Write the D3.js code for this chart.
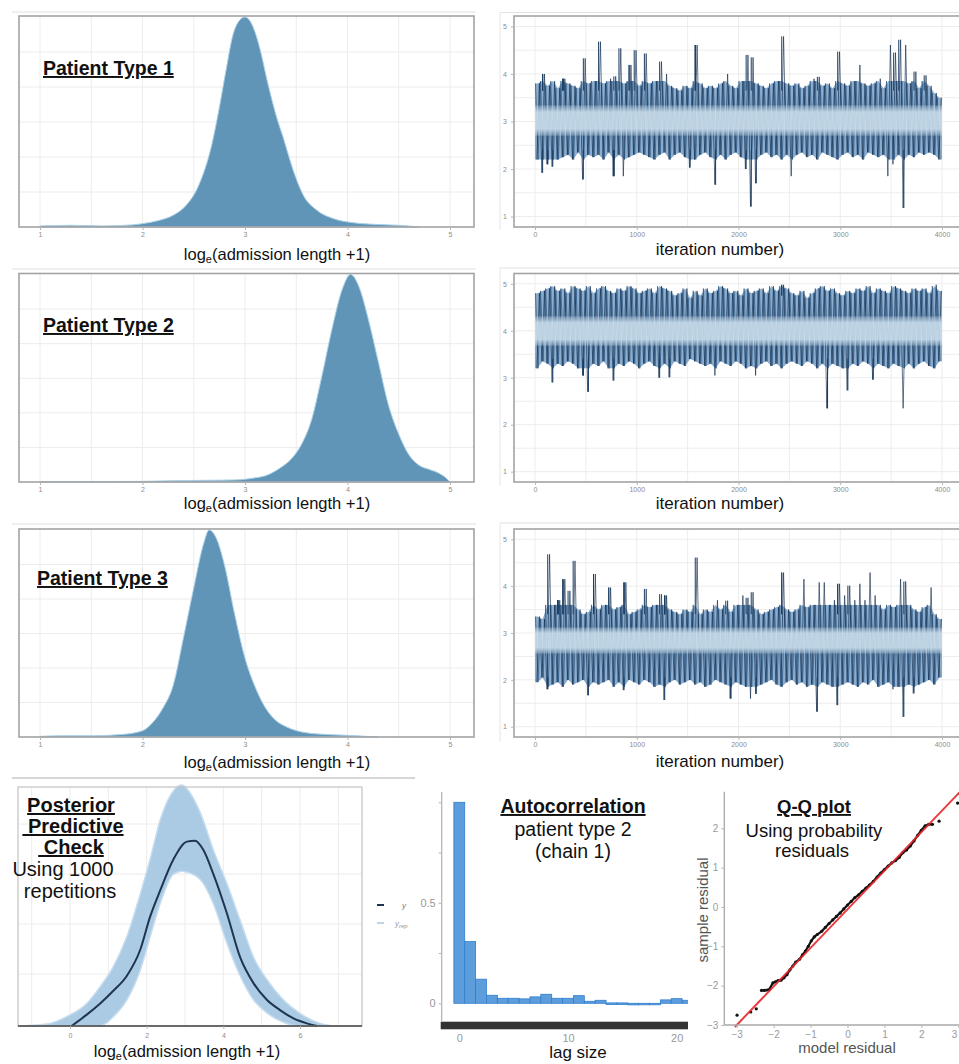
<!DOCTYPE html>
<html>
<head>
<meta charset="utf-8">
<script src="https://cdn.jsdelivr.net/npm/d3@7"></script>
<style>
  body { margin: 0; background: #fff; }
  svg { display: block; font-family: 'Liberation Sans', Arial, sans-serif; }
</style>
</head>
<body>
<script>
// ---------- data ----------
var patientLabels = ["Patient Type 1", "Patient Type 2", "Patient Type 3"];
var densityTicks = [1, 2, 3, 4, 5];

// posterior densities of log(admission length + 1), peak scaled to 1
var density1X = [1.0, 1.3, 1.6, 1.9, 2.0, 2.15, 2.3, 2.42, 2.55, 2.68, 2.75, 2.82, 2.88, 2.94, 3.0, 3.05, 3.11, 3.16, 3.21, 3.26, 3.31, 3.37, 3.47, 3.57, 3.7, 3.86, 4.06, 4.3, 4.5, 4.7];
var density1Y = [0.005, 0.008, 0.005, 0.01, 0.016, 0.03, 0.056, 0.1, 0.2, 0.4, 0.57, 0.76, 0.91, 0.98, 1.0, 0.98, 0.91, 0.82, 0.71, 0.61, 0.52, 0.43, 0.27, 0.15, 0.08, 0.04, 0.02, 0.012, 0.008, 0.0];
var density2X = [1.0, 1.5, 2.0, 2.3, 2.6, 2.9, 3.0, 3.1, 3.2, 3.35, 3.45, 3.55, 3.65, 3.75, 3.85, 3.95, 4.03, 4.12, 4.2, 4.3, 4.4, 4.5, 4.6, 4.7, 4.8, 4.9, 4.96, 5.0];
var density2Y = [0.002, 0.002, 0.003, 0.006, 0.008, 0.01, 0.013, 0.02, 0.03, 0.07, 0.11, 0.18, 0.3, 0.51, 0.74, 0.93, 1.0, 0.93, 0.79, 0.58, 0.37, 0.23, 0.13, 0.08, 0.06, 0.04, 0.02, 0.0];
var density3X = [1.0, 1.2, 1.5, 1.8, 2.0, 2.1, 2.2, 2.3, 2.4, 2.5, 2.6, 2.65, 2.72, 2.8, 2.9, 3.0, 3.1, 3.2, 3.3, 3.4, 3.6, 3.8, 4.0, 4.3];
var density3Y = [0.003, 0.006, 0.006, 0.012, 0.03, 0.07, 0.14, 0.25, 0.48, 0.72, 0.94, 1.0, 0.96, 0.83, 0.59, 0.38, 0.24, 0.14, 0.08, 0.05, 0.02, 0.012, 0.008, 0.0];

// trace plots: per 50-iteration block, highest and lowest draw
var traceTicksX = [0, 1000, 2000, 3000, 4000];
var traceTicksY = [1, 2, 3, 4, 5];
var traceBlock = 50;
var traceHi1 = [3.8, 4.0, 3.75, 3.85, 3.7, 3.9, 3.8, 3.75, 3.7, 4.33, 3.8, 3.85, 4.68, 3.8, 3.9, 3.95, 4.54, 3.8, 4.19, 4.5,
  3.75, 4.43, 3.8, 3.85, 4.26, 4.0, 3.75, 3.7, 3.65, 3.75, 3.7, 4.61, 3.8, 3.7, 3.75, 3.7, 3.8, 4.0, 3.75, 3.7,
  3.85, 4.4, 4.35, 3.8, 3.75, 3.7, 3.8, 3.85, 4.79, 3.8, 3.75, 3.8, 3.7, 3.75, 3.9, 3.94, 3.75, 3.8, 3.7, 4.47,
  3.8, 3.75, 3.85, 4.19, 3.8, 3.75, 3.8, 3.9, 3.7, 4.61, 4.45, 4.72, 4.61, 3.8, 4.05, 3.7, 3.97, 3.75, 3.6, 3.5];
var traceLo1 = [2.2, 1.92, 2.1, 2.05, 2.2, 2.25, 2.3, 2.2, 2.35, 1.78, 2.3, 2.25, 2.3, 2.2, 2.35, 1.85, 2.3, 1.85, 2.25, 2.3,
  2.35, 2.3, 2.25, 2.2, 2.3, 2.35, 2.2, 2.3, 2.35, 2.25, 2.03, 2.2, 2.3, 2.35, 2.25, 1.67, 2.3, 2.2, 2.3, 2.35,
  2.25, 2.0, 1.21, 1.7, 2.3, 2.35, 2.25, 2.3, 2.2, 2.3, 1.85, 2.3, 2.35, 2.25, 2.3, 2.2, 2.35, 2.3, 2.25, 2.2,
  2.3, 2.35, 2.25, 2.3, 2.2, 2.35, 2.3, 2.25, 2.3, 1.85, 2.1, 2.3, 1.18, 2.3, 2.25, 2.35, 2.3, 2.35, 2.3, 2.2];
var traceHi2 = [4.8, 4.85, 4.9, 4.95, 4.85, 4.9, 4.8, 4.95, 4.9, 4.85, 4.95, 4.8, 4.9, 4.95, 4.85, 4.8, 4.9, 4.85, 4.95, 4.9,
  4.8, 4.85, 4.9, 4.8, 4.95, 4.9, 4.85, 4.75, 4.8, 4.9, 4.7, 4.85, 4.75, 4.9, 4.8, 4.85, 4.95, 4.9, 4.8, 4.85,
  4.75, 4.9, 4.8, 4.85, 4.9, 4.8, 4.95, 4.85, 4.98, 4.9, 4.8, 4.75, 4.85, 4.7, 4.8, 4.9, 4.95, 4.85, 4.9, 4.8,
  4.75, 4.85, 4.8, 4.9, 4.85, 4.95, 4.8, 4.9, 4.85, 4.8, 4.95, 4.9, 4.85, 4.8, 4.9, 4.85, 4.9, 4.8, 4.98, 4.85];
var traceLo2 = [3.2, 3.35, 3.3, 2.9, 3.3, 3.25, 3.35, 3.3, 3.2, 3.05, 2.7, 3.3, 3.25, 3.35, 3.2, 2.94, 3.3, 3.25, 3.35, 3.3,
  3.2, 3.3, 3.35, 3.25, 3.0, 3.3, 3.01, 3.35, 3.3, 3.25, 3.4, 3.35, 3.3, 3.25, 3.3, 3.05, 3.35, 3.3, 3.25, 3.35,
  3.3, 3.2, 3.25, 3.05, 3.3, 3.35, 3.25, 3.3, 3.2, 3.3, 3.35, 3.3, 3.25, 3.35, 3.3, 3.2, 3.3, 2.35, 3.3, 3.25,
  3.2, 2.73, 3.3, 3.25, 3.35, 3.3, 2.96, 3.3, 3.25, 3.2, 3.3, 3.25, 2.35, 3.3, 3.2, 3.3, 3.35, 3.25, 3.2, 3.35];
var traceHi3 = [3.35, 3.3, 4.68, 3.6, 3.7, 4.15, 3.9, 4.54, 3.5, 3.4, 3.45, 4.26, 3.5, 3.6, 3.97, 3.5, 3.55, 4.08, 3.4, 3.45,
  3.5, 3.94, 3.55, 3.6, 3.83, 3.8, 3.5, 3.45, 3.4, 3.5, 3.45, 4.61, 3.4, 3.5, 3.45, 3.7, 3.5, 3.69, 3.45, 3.6,
  3.8, 3.75, 3.87, 3.5, 3.4, 3.45, 3.5, 3.55, 4.29, 3.5, 3.45, 3.5, 4.15, 3.55, 3.6, 4.08, 4.08, 3.6, 3.7, 4.05,
  3.8, 4.01, 3.7, 4.05, 3.7, 4.29, 3.8, 3.6, 3.5, 3.6, 3.55, 4.15, 4.1, 3.6, 3.5, 3.45, 3.55, 3.97, 3.4, 3.3];
var traceLo3 = [1.95, 2.05, 1.8, 1.9, 1.95, 1.85, 2.0, 1.9, 1.95, 2.0, 1.67, 1.95, 1.9, 1.95, 2.0, 1.85, 1.95, 1.78, 2.0, 1.95,
  1.9, 2.0, 1.95, 1.85, 1.9, 1.57, 1.95, 2.0, 1.9, 1.95, 2.0, 1.9, 1.95, 1.85, 1.9, 2.0, 1.95, 1.9, 1.6, 1.95,
  1.9, 1.85, 1.6, 1.7, 1.9, 1.95, 2.0, 1.9, 1.85, 1.95, 2.0, 1.9, 1.95, 1.85, 1.9, 1.32, 1.95, 1.9, 1.85, 1.46,
  1.9, 1.95, 1.9, 1.85, 1.95, 1.9, 2.0, 1.85, 1.9, 1.95, 1.8, 1.85, 1.21, 1.9, 1.71, 1.9, 1.95, 2.0, 1.9, 2.05];
// lighter core of the chains and the extent of the dense part
var traceBand = [[2.7, 3.34], [3.68, 4.31], [2.56, 3.12]];
var traceCore = [[2.2, 3.85], [3.2, 4.95], [1.85, 3.6]];

// posterior predictive check
var ppcTicks = [0, 2, 4, 6];
var ppcObsX = [0.04, 0.43, 0.78, 1.13, 1.48, 1.83, 2.09, 2.35, 2.7, 3.05, 3.26, 3.48, 3.74, 4.09, 4.44, 4.79, 5.14, 5.48, 5.83, 6.18, 6.44];
var ppcObsY = [0, 0.06, 0.12, 0.19, 0.27, 0.41, 0.59, 0.73, 0.9, 0.995, 1.0, 0.95, 0.82, 0.61, 0.37, 0.23, 0.14, 0.086, 0.041, 0.014, 0];
var ppcBandX = [-1.3, -0.52, -0.09, 0.43, 0.78, 1.13, 1.48, 1.83, 2.09, 2.35, 2.7, 2.92, 3.05, 3.4, 3.74, 4.09, 4.44, 4.79, 5.14, 5.57, 6.0, 6.53, 6.88];
var ppcBandHi = [0, 0.014, 0.05, 0.12, 0.21, 0.32, 0.48, 0.71, 0.9, 1.11, 1.27, 1.3, 1.28, 1.15, 0.95, 0.77, 0.57, 0.37, 0.25, 0.14, 0.068, 0.014, 0];
var ppcBandLo = [0, 0, 0, 0, 0, 0.05, 0.14, 0.3, 0.48, 0.66, 0.82, 0.835, 0.83, 0.79, 0.66, 0.45, 0.27, 0.14, 0.07, 0.02, 0, 0, 0];

// autocorrelation, patient type 2, chain 1
var acfLag = [0, 1, 2, 3, 4, 5, 6, 7, 8, 9, 10, 11, 12, 13, 14, 15, 16, 17, 18, 19, 20, 21];
var acfValue = [1.0, 0.307, 0.12, 0.04, 0.025, 0.025, 0.022, 0.032, 0.045, 0.025, 0.025, 0.038, 0.01, 0.015, 0.002, 0.002, -0.008, -0.005, -0.005, 0.017, 0.023, 0.015];
var acfTicksX = [0, 10, 20];
var acfTicksY = [0, 0.25, 0.5, 0.75, 1];
var acfLabelsY = [0, 0.5];

// Q-Q plot of probability residuals
var qqTicksX = [-3, -2, -1, 0, 1, 2, 3];
var qqTicksY = [-3, -2, -1, 0, 1, 2];
var qqX = [-2.99, -2.62, -2.47, -2.33, -2.25, -2.18, -2.12, -2.02, -1.95, -1.88, -1.8, -1.72, -1.64, -1.56, -1.48, -1.4, -1.3, -1.22, -1.14, -1.06,
  -0.98, -0.9, -0.82, -0.7, -0.6, -0.5, -0.4, -0.3, -0.2, -0.1, 0.0, 0.1, 0.2, 0.3, 0.4, 0.5, 0.6, 0.7, 0.8, 0.9,
  1.0, 1.1, 1.2, 1.3, 1.4, 1.5, 1.6, 1.7, 1.8, 1.9, 2.0, 2.1, 2.2, 2.3, 2.48, 2.98];
var qqY = [-2.75, -2.67, -2.59, -2.12, -2.12, -2.11, -2.1, -1.93, -1.9, -1.87, -1.86, -1.8, -1.72, -1.6, -1.5, -1.4, -1.33, -1.22, -1.12, -1.0,
  -0.86, -0.76, -0.7, -0.62, -0.52, -0.42, -0.33, -0.24, -0.15, -0.05, 0.05, 0.14, 0.24, 0.31, 0.4, 0.48, 0.56, 0.65, 0.76, 0.86,
  0.95, 1.04, 1.12, 1.18, 1.26, 1.38, 1.45, 1.55, 1.68, 1.82, 1.95, 2.06, 2.1, 2.1, 2.18, 2.64];
var qqLineX = [-3.05, 3.1];
var qqLineY = [-3.05, 2.98];

// ---------- drawing ----------
var FONT = "'Liberation Sans', Arial, sans-serif";
var intFmt = d3.format("d");
var svg = d3.select("body").append("svg").attr("width", 959).attr("height", 1064);
svg.append("rect").attr("width", 959).attr("height", 1064).attr("fill", "#fff");

// soft-edged light core of the trace plots
var grad = svg.append("defs").append("linearGradient").attr("id", "bandGrad")
  .attr("x1", 0).attr("y1", 0).attr("x2", 0).attr("y2", 1);
[[0, 0.25], [0.22, 0.85], [0.78, 0.85], [1, 0.25]].forEach(function(s) {
  grad.append("stop").attr("offset", s[0]).attr("stop-color", "#d0e3f0").attr("stop-opacity", s[1]);
});

function styleAxis(g, size, color) {
  g.attr("font-family", FONT);
  g.select(".domain").remove();
  g.selectAll(".tick line").attr("stroke", "#b5b5b5");
  g.selectAll(".tick text").attr("fill", color || "#8c8c8c").attr("font-size", size);
}

function logTitle(x, y) {
  var t = svg.append("text").attr("x", x).attr("y", y).attr("text-anchor", "middle")
    .attr("font-size", 16.5).attr("fill", "#111");
  t.append("tspan").text("log");
  t.append("tspan").attr("font-size", 11).attr("dy", 3).text("e");
  t.append("tspan").attr("dy", -3).text("(admission length +1)");
}

// image edges of the pasted panels
var edges = [[12, 476, 12], [500, 959, 12.5], [12, 476, 269], [500, 959, 268], [12, 476, 524], [500, 959, 523]];
edges.forEach(function(e) {
  svg.append("line").attr("x1", e[0]).attr("x2", e[1]).attr("y1", e[2]).attr("y2", e[2])
    .attr("stroke", "#e2e2e2").attr("stroke-width", 1.2);
});
[[12.5, 230], [268, 486], [523, 742]].forEach(function(e) {
  svg.append("line").attr("x1", 500).attr("x2", 500).attr("y1", e[0]).attr("y2", e[1])
    .attr("stroke", "#e6e6e6");
});
svg.append("line").attr("x1", 12).attr("x2", 415).attr("y1", 778).attr("y2", 778)
  .attr("stroke", "#c8c8c8").attr("stroke-width", 1.5);

// ----- density panels -----
var rows = [
  { top: 16, bottom: 227, labelY: 75, labelX: 43, titleY: 260, traceTitleY: 255 },
  { top: 273.5, bottom: 482, labelY: 332, labelX: 43, titleY: 509, traceTitleY: 509 },
  { top: 529, bottom: 737, labelY: 585, labelX: 37, titleY: 768, traceTitleY: 767 }
];
var densityX = [density1X, density2X, density3X];
var densityY = [density1Y, density2Y, density3Y];
var xDens = d3.scaleLinear().domain([1, 5]).range([40, 450]);

rows.forEach(function(r, i) {
  var yDens = d3.scaleLinear().domain([0, 1]).range([r.bottom, r.top + 1]);
  var g = svg.append("g");
  g.selectAll(".vg").data(d3.range(1, 5.01, 0.5)).enter().append("line")
    .attr("x1", xDens).attr("x2", xDens).attr("y1", r.top).attr("y2", r.bottom)
    .attr("stroke", "#ececec");
  g.selectAll(".hg").data([1 / 6, 2 / 6, 3 / 6, 4 / 6, 5 / 6]).enter().append("line")
    .attr("x1", 19).attr("x2", 474).attr("y1", yDens).attr("y2", yDens)
    .attr("stroke", "#ececec");
  var pts = densityX[i].map(function(x, k) { return [x, densityY[i][k]]; });
  var area = d3.area().x(function(d) { return xDens(d[0]); })
    .y0(yDens(0)).y1(function(d) { return yDens(d[1]); })
    .curve(d3.curveMonotoneX);
  g.append("path").datum(pts).attr("d", area)
    .attr("fill", "#6195b7").attr("stroke", "#a9d0e6").attr("stroke-width", 1);
  g.append("rect").attr("x", 19).attr("y", r.top).attr("width", 455).attr("height", r.bottom - r.top)
    .attr("fill", "none").attr("stroke", "#a3a3a3").attr("stroke-width", 1.6);
  var ax = g.append("g").attr("transform", "translate(0," + r.bottom + ")")
    .call(d3.axisBottom(xDens).tickValues(densityTicks).tickFormat(intFmt).tickSize(3).tickPadding(2));
  styleAxis(ax, 7);
  svg.append("text").attr("x", r.labelX).attr("y", r.labelY).text(patientLabels[i])
    .attr("font-size", 19.5).attr("font-weight", "bold").style("text-decoration", "underline").attr("fill", "#111");
  logTitle(277, r.titleY);
});

// ----- trace panels -----
var xTrace = d3.scaleLinear().domain([0, 4000]).range([535, 942]);
var traceHi = [traceHi1, traceHi2, traceHi3];
var traceLo = [traceLo1, traceLo2, traceLo3];

rows.forEach(function(r, i) {
  var yTrace = d3.scaleLinear().domain([0.78, 5.22]).range([r.bottom, r.top]);
  var g = svg.append("g");
  var clipId = "tclip" + i;
  svg.append("clipPath").attr("id", clipId).append("rect")
    .attr("x", 514).attr("y", r.top).attr("width", 460).attr("height", r.bottom - r.top);
  g.selectAll(".vg").data(d3.range(0, 4001, 500)).enter().append("line")
    .attr("x1", xTrace).attr("x2", xTrace).attr("y1", r.top).attr("y2", r.bottom).attr("stroke", "#ededed");
  g.selectAll(".hg").data(d3.range(1, 5.01, 0.5)).enter().append("line")
    .attr("x1", 514).attr("x2", 959).attr("y1", yTrace).attr("y2", yTrace).attr("stroke", "#ededed");

  var hi = traceHi[i], lo = traceLo[i], band = traceBand[i], core = traceCore[i];
  var mid = function(k) { return k * traceBlock + traceBlock / 2; };
  var tg = g.append("g").attr("clip-path", "url(#" + clipId + ")");
  var line = d3.line().x(function(d) { return xTrace(d[0]); }).y(function(d) { return yTrace(d[1]); });

  // dense part of the chains between the light core and the usual extremes
  var upper = hi.map(function(h, k) { return [mid(k), Math.min(h, core[1])]; });
  var lower = lo.map(function(l, k) { return [mid(k), Math.max(l, core[0])]; });
  upper.unshift([0, upper[0][1]]); upper.push([4000, upper[upper.length - 1][1]]);
  lower.unshift([0, lower[0][1]]); lower.push([4000, lower[lower.length - 1][1]]);
  var centre = yTrace((band[0] + band[1]) / 2);
  tg.append("path").datum(upper)
    .attr("d", d3.area().x(function(d) { return xTrace(d[0]); }).y0(centre).y1(function(d) { return yTrace(d[1]); }))
    .attr("fill", "#6f98c0").attr("fill-opacity", 0.8);
  tg.append("path").datum(lower)
    .attr("d", d3.area().x(function(d) { return xTrace(d[0]); }).y0(centre).y1(function(d) { return yTrace(d[1]); }))
    .attr("fill", "#6f98c0").attr("fill-opacity", 0.8);

  // zigzags of the draws through each block's extremes (two chains, offset)
  var zigA = [], zigB = [];
  hi.forEach(function(h, k) {
    var s = k * traceBlock;
    zigA.push([s + 5, Math.min(h, core[1])]); zigA.push([s + 30, Math.max(lo[k], core[0])]);
    zigB.push([s + 18, lo[k]]); zigB.push([s + 43, h]);
  });
  tg.append("path").datum(zigA).attr("d", line).attr("fill", "none")
    .attr("stroke", "#2c5986").attr("stroke-width", 0.85).attr("stroke-opacity", 0.85);
  tg.append("path").datum(zigB).attr("d", line).attr("fill", "none")
    .attr("stroke", "#0f2a4a").attr("stroke-width", 0.75).attr("stroke-opacity", 0.85);

  // single excursions beyond the dense part
  tg.selectAll(".spkHi").data(hi).enter().filter(function(d) { return d > core[1]; }).append("line")
    .attr("x1", function(d) { return xTrace(mid(hi.indexOf(d))); })
    .attr("x2", function(d) { return xTrace(mid(hi.indexOf(d))); })
    .attr("y1", function(d) { return yTrace(d); }).attr("y2", yTrace(core[1] - 0.2))
    .attr("stroke", "#1b3d63").attr("stroke-width", 1);
  tg.selectAll(".spkLo").data(lo).enter().filter(function(d) { return d < core[0]; }).append("line")
    .attr("x1", function(d) { return xTrace(mid(lo.indexOf(d))); })
    .attr("x2", function(d) { return xTrace(mid(lo.indexOf(d))); })
    .attr("y1", function(d) { return yTrace(d); }).attr("y2", yTrace(core[0] + 0.2))
    .attr("stroke", "#1b3d63").attr("stroke-width", 1);

  tg.append("rect").attr("x", xTrace(0)).attr("width", xTrace(4000) - xTrace(0))
    .attr("y", yTrace(band[1])).attr("height", yTrace(band[0]) - yTrace(band[1]))
    .attr("fill", "url(#bandGrad)");

  g.append("rect").attr("x", 514).attr("y", r.top).attr("width", 460).attr("height", r.bottom - r.top)
    .attr("fill", "none").attr("stroke", "#a3a3a3").attr("stroke-width", 1.6);
  var ay = g.append("g").attr("transform", "translate(514,0)")
    .call(d3.axisLeft(yTrace).tickValues(traceTicksY).tickFormat(intFmt).tickSize(3).tickPadding(4));
  styleAxis(ay, 7);
  var ax = g.append("g").attr("transform", "translate(0," + r.bottom + ")")
    .call(d3.axisBottom(xTrace).tickValues(traceTicksX).tickFormat(intFmt).tickSize(3).tickPadding(2));
  styleAxis(ax, 7);
  svg.append("text").attr("x", 720).attr("y", r.traceTitleY).attr("text-anchor", "middle")
    .attr("font-size", 17).attr("fill", "#111").text("iteration number)");
});

// ----- posterior predictive check -----
(function() {
  var x = d3.scaleLinear().domain([0, 6]).range([70, 300]);
  var y = d3.scaleLinear().domain([0, 1]).range([1026, 840.7]);
  var g = svg.append("g");
  g.selectAll(".vg").data(d3.range(-1, 8, 1)).enter().append("line")
    .attr("x1", x).attr("x2", x).attr("y1", 787).attr("y2", 1026).attr("stroke", "#ececec");
  g.selectAll(".hg").data([0.28, 0.55, 0.82, 1.09]).enter().append("line")
    .attr("x1", 18).attr("x2", 362).attr("y1", y).attr("y2", y).attr("stroke", "#ececec");
  var band = ppcBandX.map(function(v, k) { return [v, ppcBandLo[k], ppcBandHi[k]]; });
  g.append("path").datum(band)
    .attr("d", d3.area().x(function(d) { return x(d[0]); })
      .y0(function(d) { return y(d[1]); }).y1(function(d) { return y(d[2]); })
      .curve(d3.curveMonotoneX))
    .attr("fill", "#abcae4").attr("stroke", "#c6dcef").attr("stroke-width", 1.5);
  var obs = ppcObsX.map(function(v, k) { return [v, ppcObsY[k]]; });
  g.append("path").datum(obs)
    .attr("d", d3.line().x(function(d) { return x(d[0]); }).y(function(d) { return y(d[1]); }).curve(d3.curveMonotoneX))
    .attr("fill", "none").attr("stroke", "#1e3550").attr("stroke-width", 2);
  g.append("rect").attr("x", 18).attr("y", 787).attr("width", 344).attr("height", 239)
    .attr("fill", "none").attr("stroke", "#c2c2c2").attr("stroke-width", 1.2);
  g.append("line").attr("x1", 18).attr("x2", 362).attr("y1", 1026).attr("y2", 1026)
    .attr("stroke", "#444").attr("stroke-width", 1.6);
  var ax = g.append("g").attr("transform", "translate(0,1026)")
    .call(d3.axisBottom(x).tickValues(ppcTicks).tickFormat(intFmt).tickSize(3).tickPadding(4));
  styleAxis(ax, 7);

  // legend
  svg.append("line").attr("x1", 377).attr("x2", 384).attr("y1", 905).attr("y2", 905)
    .attr("stroke", "#1e3550").attr("stroke-width", 2);
  svg.append("text").attr("x", 402).attr("y", 908).attr("font-size", 8).attr("font-style", "italic")
    .attr("fill", "#777").text("y");
  svg.append("line").attr("x1", 377).attr("x2", 384).attr("y1", 923).attr("y2", 923)
    .attr("stroke", "#a9c9e3").attr("stroke-width", 1.5);
  var rep = svg.append("text").attr("x", 395).attr("y", 926).attr("font-size", 8).attr("font-style", "italic")
    .attr("fill", "#999");
  rep.append("tspan").text("y");
  rep.append("tspan").attr("font-size", 6).attr("dy", 2).text("rep");

  var lines = [["Posterior", true, 71, 812], [" Predictive", true, 73, 833], [" Check", true, 71, 854],
    ["Using 1000", false, 63, 876], ["repetitions", false, 70, 898]];
  lines.forEach(function(l) {
    var t = svg.append("text").attr("x", l[2]).attr("y", l[3]).attr("text-anchor", "middle")
      .attr("font-size", 20).attr("fill", "#111").style("white-space", "pre").text(l[0]);
    if (l[1]) t.attr("font-weight", "bold").style("text-decoration", "underline");
  });
  logTitle(187, 1057);
})();

// ----- autocorrelation -----
(function() {
  var x = d3.scaleLinear().domain([0, 20]).range([459.3, 676.7]);
  var y = d3.scaleLinear().domain([0, 1]).range([1003.3, 802.3]);
  var w = x(1) - x(0);
  svg.append("clipPath").attr("id", "acfclip").append("rect")
    .attr("x", 442).attr("y", 790).attr("width", 246).attr("height", 232);
  var g = svg.append("g");
  g.append("g").attr("clip-path", "url(#acfclip)").selectAll("rect").data(acfLag).enter().append("rect")
    .attr("x", function(d) { return x(d) - w / 2; })
    .attr("width", w)
    .attr("y", function(d, k) { return Math.min(y(acfValue[k]), y(0)); })
    .attr("height", function(d, k) { return Math.max(Math.abs(y(acfValue[k]) - y(0)), 1.5); })
    .attr("fill", "#5d9ddb").attr("stroke", "#2f7fcf").attr("stroke-width", 0.8);
  g.append("line").attr("x1", 441.7).attr("x2", 441.7).attr("y1", 792).attr("y2", 1021)
    .attr("stroke", "#b0b0b0").attr("stroke-width", 1.2);
  var ay = g.append("g").attr("transform", "translate(441.7,0)")
    .call(d3.axisLeft(y).tickValues(acfTicksY).tickSize(3).tickPadding(3)
      .tickFormat(function(d) { return acfLabelsY.indexOf(d) >= 0 ? d3.format("")(d) : ""; }));
  styleAxis(ay, 11, "#9a9a9a");
  g.append("rect").attr("x", 440.7).attr("y", 1021.7).attr("width", 247.3).attr("height", 7.6).attr("fill", "#333");
  var ax = g.append("g").attr("transform", "translate(0,1029)")
    .call(d3.axisBottom(x).tickValues(acfTicksX).tickSize(0).tickPadding(5));
  styleAxis(ax, 11, "#9a9a9a");
  svg.append("text").attr("x", 578).attr("y", 1058).attr("text-anchor", "middle")
    .attr("font-size", 17).attr("fill", "#111").text("lag size");
  svg.append("text").attr("x", 573).attr("y", 813).attr("text-anchor", "middle").attr("font-size", 19.5)
    .attr("font-weight", "bold").style("text-decoration", "underline").attr("fill", "#111").text("Autocorrelation");
  svg.append("text").attr("x", 573).attr("y", 836).attr("text-anchor", "middle").attr("font-size", 19.5)
    .attr("fill", "#111").text("patient type 2");
  svg.append("text").attr("x", 573).attr("y", 858).attr("text-anchor", "middle").attr("font-size", 19.5)
    .attr("fill", "#111").text("(chain 1)");
})();

// ----- Q-Q plot -----
(function() {
  var x = d3.scaleLinear().domain([-3, 3]).range([736.7, 958.3]);
  var y = d3.scaleLinear().domain([-3, 2]).range([1025, 828.3]);
  var g = svg.append("g");
  var pts = qqX.map(function(v, k) { return [v, qqY[k]]; });
  var line = d3.line().x(function(d) { return x(d[0]); }).y(function(d) { return y(d[1]); });
  g.append("path").datum(pts.slice(3, pts.length - 2)).attr("d", line)
    .attr("fill", "none").attr("stroke", "#111").attr("stroke-width", 2.2);
  g.selectAll("circle").data(pts).enter().append("circle")
    .attr("cx", function(d) { return x(d[0]); }).attr("cy", function(d) { return y(d[1]); })
    .attr("r", 1.6).attr("fill", "#111");
  g.append("line").attr("x1", x(qqLineX[0])).attr("y1", y(qqLineY[0]))
    .attr("x2", x(qqLineX[1])).attr("y2", y(qqLineY[1]))
    .attr("stroke", "#e8262b").attr("stroke-width", 2).attr("stroke-opacity", 0.9);
  g.append("line").attr("x1", 724.3).attr("x2", 724.3).attr("y1", 791.7).attr("y2", 1025)
    .attr("stroke", "#a8a8a8").attr("stroke-width", 1.3);
  g.append("line").attr("x1", 724.3).attr("x2", 959).attr("y1", 1025).attr("y2", 1025)
    .attr("stroke", "#a8a8a8").attr("stroke-width", 1.3);
  var ay = g.append("g").attr("transform", "translate(724.3,0)")
    .call(d3.axisLeft(y).tickValues(qqTicksY).tickFormat(intFmt).tickSize(3).tickPadding(3));
  styleAxis(ay, 10, "#9a9a9a");
  var ax = g.append("g").attr("transform", "translate(0,1025)")
    .call(d3.axisBottom(x).tickValues(qqTicksX).tickFormat(intFmt).tickSize(3).tickPadding(3));
  styleAxis(ax, 10, "#9a9a9a");
  // the last label sits on the right edge of the figure
  ax.selectAll(".tick text").filter(function(d) { return d === 3; }).attr("text-anchor", "end").attr("dx", -1.5);
  svg.append("text").attr("x", 847).attr("y", 1053).attr("text-anchor", "middle")
    .attr("font-size", 15).attr("fill", "#555").text("model residual");
  svg.append("text").attr("transform", "translate(708,910) rotate(-90)").attr("text-anchor", "middle")
    .attr("font-size", 15).attr("fill", "#555").text("sample residual");
  svg.append("text").attr("x", 814).attr("y", 813).attr("text-anchor", "middle").attr("font-size", 18.5)
    .attr("font-weight", "bold").style("text-decoration", "underline").attr("fill", "#111").text("Q-Q plot");
  svg.append("text").attr("x", 814).attr("y", 837).attr("text-anchor", "middle").attr("font-size", 18.5)
    .attr("fill", "#111").text("Using probability");
  svg.append("text").attr("x", 812).attr("y", 857).attr("text-anchor", "middle").attr("font-size", 18.5)
    .attr("fill", "#111").text("residuals");
})();
</script>
</body>
</html>
